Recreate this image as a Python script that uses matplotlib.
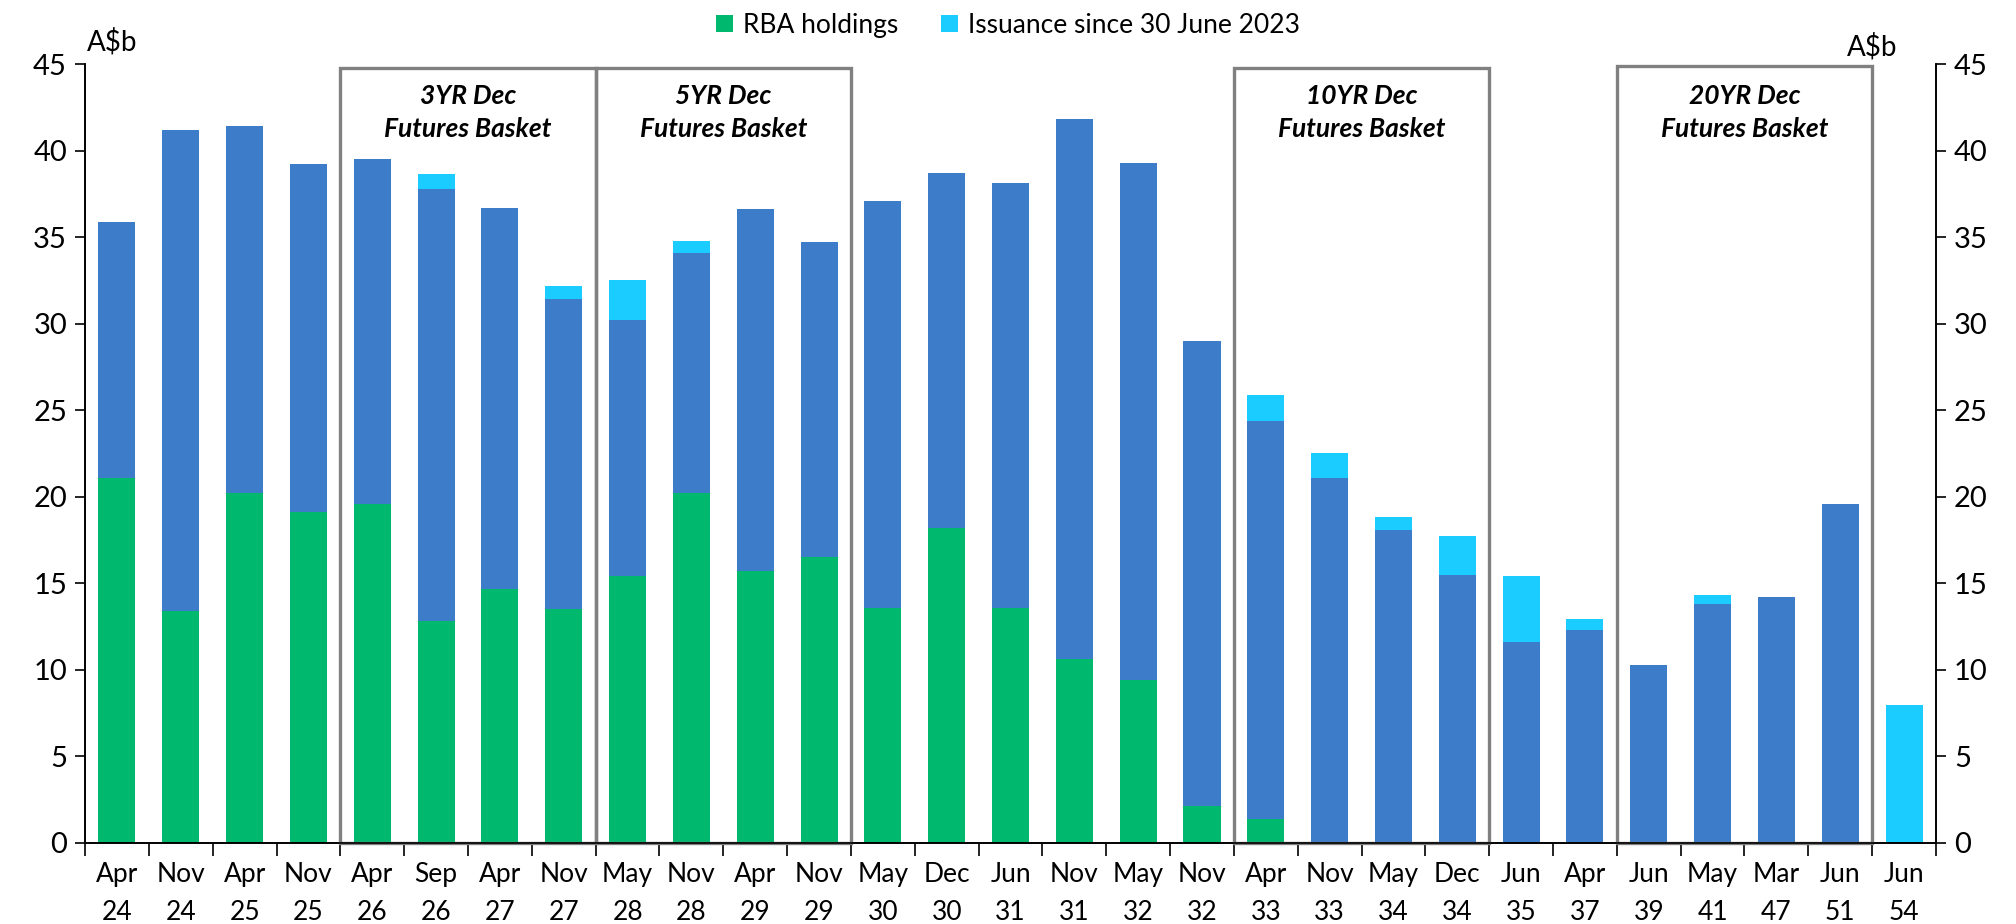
"""Stacked bars of ACGB lines: RBA holdings, other holdings and issuance since
30 June 2023, with the Dec futures baskets boxed.

Writes out.png (2016x924).
"""
import matplotlib

matplotlib.use("Agg")
import matplotlib.pyplot as plt
from matplotlib.patches import Rectangle

plt.rcParams["font.family"] = ["Lato", "DejaVu Sans"]

MONTHS = ["Apr", "Nov", "Apr", "Nov", "Apr", "Sep", "Apr", "Nov", "May", "Nov",
          "Apr", "Nov", "May", "Dec", "Jun", "Nov", "May", "Nov", "Apr", "Nov",
          "May", "Dec", "Jun", "Apr", "Jun", "May", "Mar", "Jun", "Jun"]
YEARS = ["24", "24", "25", "25", "26", "26", "27", "27", "28", "28",
         "29", "29", "30", "30", "31", "31", "32", "32", "33", "33",
         "34", "34", "35", "37", "39", "41", "47", "51", "54"]

# A$b
rba = [21.1, 13.4, 20.2, 19.1, 19.6, 12.8, 14.7, 13.5, 15.4, 20.2,
       15.7, 16.5, 13.6, 18.2, 13.6, 10.6, 9.4, 2.15, 1.4, 0,
       0, 0, 0, 0, 0, 0, 0, 0, 0]
other = [14.8, 27.8, 21.2, 20.1, 19.9, 25.0, 22.0, 17.9, 14.8, 13.9,
         20.9, 18.2, 23.5, 20.5, 24.5, 31.2, 29.9, 26.85, 23.0, 21.1,
         18.1, 15.5, 11.6, 12.3, 10.3, 13.8, 14.2, 19.6, 0]
issuance = [0, 0, 0, 0, 0, 0.85, 0, 0.8, 2.3, 0.65,
            0, 0, 0, 0, 0, 0, 0, 0, 1.5, 1.4,
            0.75, 2.25, 3.85, 0.65, 0, 0.5, 0, 0, 7.95]

# futures baskets: (first bar, last bar, label)
BASKETS = [(4, 7, "3YR Dec\nFutures Basket"),
           (8, 11, "5YR Dec\nFutures Basket"),
           (18, 21, "10YR Dec\nFutures Basket"),
           (24, 27, "20YR Dec\nFutures Basket")]

GREEN = "#00B96E"
BLUE = "#3D7CC9"
CYAN = "#1ACCFF"
BOX = "#808080"
FS = 19

fig = plt.figure(figsize=(20.16, 9.24), dpi=100)
ax = fig.add_axes([0.0422, 0.0877, 0.9181, 0.843])

x = list(range(len(rba)))
w = 0.58
base2 = [a + b for a, b in zip(rba, other)]
ax.bar(x, rba, w, color=GREEN, label="RBA holdings", zorder=2)
ax.bar(x, other, w, bottom=rba, color=BLUE, zorder=2)
ax.bar(x, issuance, w, bottom=base2, color=CYAN,
       label="Issuance since 30 June 2023", zorder=2)

for lo, hi, text in BASKETS:
    top = 44.9 if lo == 24 else 44.75
    ax.add_patch(Rectangle((lo - 0.5, 0), hi - lo + 1, top, fill=False,
                           edgecolor=BOX, lw=2.4, clip_on=False, zorder=3))
    ax.text((lo + hi) / 2, 42.2, text, ha="center", va="center",
            fontsize=FS, fontweight="bold", fontstyle="italic",
            linespacing=1.45, zorder=4)

ax.set_xlim(-0.5, len(x) - 0.5)
ax.set_ylim(0, 45)
ax.set_yticks(range(0, 46, 5))

# ticks at category edges, labels centred on bars
ax.set_xticks([i - 0.5 for i in range(len(x) + 1)])
ax.set_xticklabels([])
ax.set_xticks(x, minor=True)
ax.set_xticklabels([f"{m}\n{y}" for m, y in zip(MONTHS, YEARS)], minor=True,
                   fontsize=FS, linespacing=1.62)
ax.tick_params(axis="x", which="major", length=9, width=1.2, direction="out")
ax.tick_params(axis="x", which="minor", length=0, pad=14)
ax.tick_params(axis="y", length=7, width=1.2, labelsize=FS + 2, pad=6)

ax2 = ax.twinx()
ax2.set_ylim(ax.get_ylim())
ax2.set_yticks(range(0, 46, 5))
ax2.tick_params(axis="y", length=7, width=1.2, labelsize=FS + 2, pad=6)

for a in (ax, ax2):
    a.spines["top"].set_visible(False)
    for s in ("left", "right", "bottom"):
        a.spines[s].set_linewidth(1.2)

fig.text(0.043, 0.955, "A$b", fontsize=FS + 1, ha="left", va="center")
fig.text(0.941, 0.949, "A$b", fontsize=FS + 1, ha="right", va="center")

fig.legend(loc="upper center", bbox_to_anchor=(0.5, 1.012), ncol=2,
           frameon=False, fontsize=FS, handlelength=0.65,
           handleheight=0.65, handletextpad=0.4, columnspacing=1.6)

fig.savefig("out.png", dpi=100)
